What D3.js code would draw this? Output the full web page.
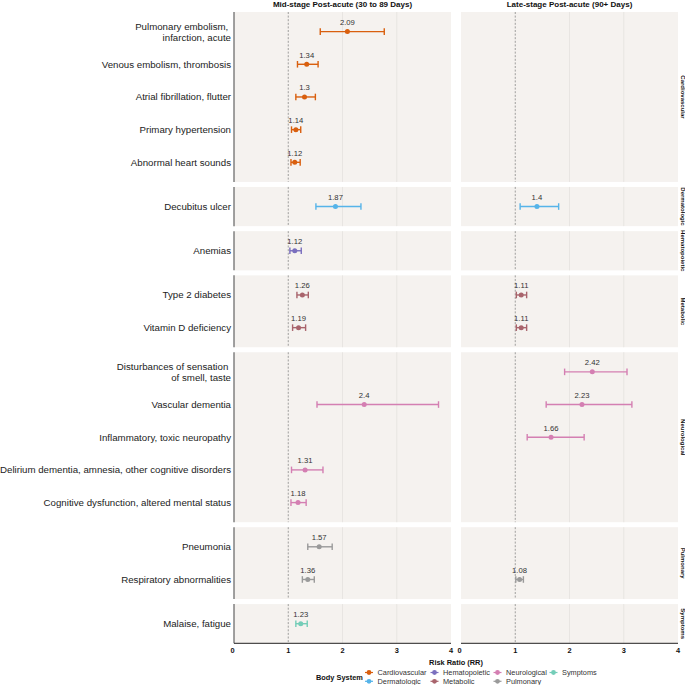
<!DOCTYPE html>
<html>
<head>
<meta charset="utf-8">
<script src="https://cdn.jsdelivr.net/npm/d3@7"></script>
<style>
  html, body { margin: 0; padding: 0; background: #fff; }
  svg { display: block; font-family: "Liberation Sans", Arial, Helvetica, sans-serif; }
</style>
</head>
<body>
<svg id="chart" width="685" height="685"></svg>
<script>
// ---------------- DATA ----------------
const systems = ["Cardiovascular", "Dermatologic", "Hematopoietic", "Metabolic", "Neurological", "Pulmonary", "Symptoms"];
const systemColors = ["#D95F0E", "#56B4E9", "#7A6FBE", "#A9646C", "#D47FB2", "#9A9A9A", "#74CDB8"];

const outcomes = [
  "Pulmonary embolism, \ninfarction, acute",
  "Venous embolism, thrombosis",
  "Atrial fibrillation, flutter",
  "Primary hypertension",
  "Abnormal heart sounds",
  "Decubitus ulcer",
  "Anemias",
  "Type 2 diabetes",
  "Vitamin D deficiency",
  "Disturbances of sensation \nof smell, taste",
  "Vascular dementia",
  "Inflammatory, toxic neuropathy",
  "Delirium dementia, amnesia, other cognitive disorders",
  "Cognitive dysfunction, altered mental status",
  "Pneumonia",
  "Respiratory abnormalities",
  "Malaise, fatigue"
];
const outcomeSystem = [
  "Cardiovascular", "Cardiovascular", "Cardiovascular", "Cardiovascular", "Cardiovascular",
  "Dermatologic", "Hematopoietic", "Metabolic", "Metabolic",
  "Neurological", "Neurological", "Neurological", "Neurological", "Neurological",
  "Pulmonary", "Pulmonary", "Symptoms"
];

const periods = ["Mid-stage Post-acute (30 to 89 Days)", "Late-stage Post-acute (90+ Days)"];

// Mid-stage (30-89 days)
const midRR = [2.09, 1.34, 1.30, 1.14, 1.12, 1.87, 1.12, 1.26, 1.19, null, 2.40, null, 1.31, 1.18, 1.57, 1.36, 1.23];
const midLo = [1.59, 1.17, 1.14, 1.06, 1.05, 1.51, 1.03, 1.16, 1.08, null, 1.53, null, 1.06, 1.05, 1.36, 1.26, 1.14];
const midHi = [2.77, 1.55, 1.50, 1.23, 1.22, 2.34, 1.24, 1.37, 1.32, null, 3.77, null, 1.64, 1.33, 1.81, 1.48, 1.35];

// Late-stage (90+ days)
const lateRR = [null, null, null, null, null, 1.40, null, 1.11, 1.11, 2.42, 2.23, 1.66, null, null, null, 1.08, null];
const lateLo = [null, null, null, null, null, 1.09, null, 1.02, 1.02, 1.91, 1.57, 1.22, null, null, null, 1.01, null];
const lateHi = [null, null, null, null, null, 1.80, null, 1.21, 1.21, 3.06, 3.15, 2.27, null, null, null, 1.15, null];

const xTicks = [0, 1, 2, 3, 4];
const xTitle = "Risk Ratio (RR)";
const legendTitle = "Body System";

// ---------------- LAYOUT ----------------
const svg = d3.select("#chart");
const color = d3.scaleOrdinal().domain(systems).range(systemColors);

const panelX = [[234, 451], [461, 678]];
const plotTop = 12, plotBottom = 643.3, gapY = 5;
const xScales = panelX.map(r => d3.scaleLinear().domain([0, 4]).range(r));

const facetItems = systems.map(s => outcomes.map((o, i) => i).filter(i => outcomeSystem[i] === s));
const totalUnits = d3.sum(facetItems, f => f.length + 0.2);
const unit = (plotBottom - plotTop - gapY * (systems.length - 1)) / totalUnits;

let yCursor = plotTop;
const facets = facetItems.map((items, k) => {
  const h = unit * (items.length + 0.2);
  const y0 = yCursor;
  yCursor += h + gapY;
  const ys = d3.scalePoint().domain(items).range([y0, y0 + h]).padding(0.6);
  return { system: systems[k], items, y0, h, ys };
});

const series = [
  { rr: midRR, lo: midLo, hi: midHi },
  { rr: lateRR, lo: lateLo, hi: lateHi }
];

// panel backgrounds & grids
facets.forEach(f => {
  panelX.forEach((r, p) => {
    const g = svg.append("g");
    g.append("rect").attr("x", r[0]).attr("y", f.y0).attr("width", r[1] - r[0]).attr("height", f.h)
      .attr("fill", "#F5F2EF");
    [2, 3].forEach(t => {
      g.append("line").attr("x1", xScales[p](t)).attr("x2", xScales[p](t))
        .attr("y1", f.y0).attr("y2", f.y0 + f.h).attr("stroke", "#E3DFDC").attr("stroke-width", 0.7);
    });
    g.append("line").attr("x1", xScales[p](1)).attr("x2", xScales[p](1))
      .attr("y1", f.y0).attr("y2", f.y0 + f.h).attr("stroke", "#7a7a7a").attr("stroke-width", 0.7)
      .attr("stroke-dasharray", "2,1.6");
  });
  // left y axis line
  svg.append("line").attr("x1", 234).attr("x2", 234).attr("y1", f.y0).attr("y2", f.y0 + f.h)
    .attr("stroke", "#555").attr("stroke-width", 1.1);
  // y labels
  f.items.forEach(i => {
    const lines = outcomes[i].split("\n");
    const t = svg.append("text").attr("text-anchor", "end").attr("font-size", 9.7).attr("fill", "#222")
      .style("white-space", "pre");
    const yc = f.ys(i);
    lines.forEach((ln, j) => {
      t.append("tspan").attr("x", 231).attr("y", yc + (j - (lines.length - 1) / 2) * 11 + 3.4).text(ln);
    });
  });
  // strip label
  const cy = f.y0 + f.h / 2;
  svg.append("text").attr("transform", `translate(681.2,${cy}) rotate(90)`)
    .attr("text-anchor", "middle").attr("font-size", 6).attr("font-weight", "bold").attr("fill", "#111")
    .text(f.system);
});

// error bars, points, labels
facets.forEach(f => {
  f.items.forEach(i => {
    series.forEach((s, p) => {
      if (s.rr[i] == null) return;
      const x = xScales[p], y = f.ys(i), c = color(f.system);
      const g = svg.append("g");
      g.append("line").attr("x1", x(s.lo[i])).attr("x2", x(s.hi[i])).attr("y1", y).attr("y2", y)
        .attr("stroke", c).attr("stroke-width", 1.4);
      [s.lo[i], s.hi[i]].forEach(v => {
        g.append("line").attr("x1", x(v)).attr("x2", x(v)).attr("y1", y - 3.3).attr("y2", y + 3.3)
          .attr("stroke", c).attr("stroke-width", 1.4);
      });
      g.append("circle").attr("cx", x(s.rr[i])).attr("cy", y).attr("r", 2.5).attr("fill", c);
      g.append("text").attr("x", x(s.rr[i])).attr("y", y - 6.5).attr("text-anchor", "middle")
        .attr("font-size", 7.7).attr("fill", "#333").text(String(s.rr[i]));
    });
  });
});

// x axes
panelX.forEach((r, p) => {
  svg.append("line").attr("x1", r[0]).attr("x2", r[1]).attr("y1", plotBottom).attr("y2", plotBottom)
    .attr("stroke", "#222").attr("stroke-width", 1);
  xTicks.forEach(t => {
    svg.append("text").attr("x", xScales[p](t) - (t === 0 ? 1.5 : 0)).attr("y", plotBottom + 9.5)
      .attr("text-anchor", "middle").attr("font-size", 7.4).attr("font-weight", "bold").attr("fill", "#111")
      .text(t);
  });
  // panel titles
  svg.append("text").attr("x", (r[0] + r[1]) / 2).attr("y", 7).attr("text-anchor", "middle")
    .attr("font-size", 8).attr("font-weight", "bold").attr("fill", "#111").text(periods[p]);
});

svg.append("text").attr("x", 456).attr("y", 665).attr("text-anchor", "middle")
  .attr("font-size", 7.4).attr("font-weight", "bold").attr("fill", "#111").text(xTitle);

// legend
const lg = svg.append("g");
lg.append("text").attr("x", 316).attr("y", 679.8).attr("font-size", 7.4).attr("font-weight", "bold")
  .attr("fill", "#111").text(legendTitle);
const colX = [369, 434.5, 497.5, 553.5];
const rowY = [672.5, 681.3];
systems.forEach((s, k) => {
  const col = Math.floor(k / 2), row = k % 2;
  const kx = colX[col], ky = rowY[row];
  lg.append("line").attr("x1", kx - 4).attr("x2", kx + 4).attr("y1", ky).attr("y2", ky)
    .attr("stroke", color(s)).attr("stroke-width", 1.2);
  lg.append("circle").attr("cx", kx).attr("cy", ky).attr("r", 2.4).attr("fill", color(s));
  lg.append("text").attr("x", kx + 8.5).attr("y", ky + 2.6).attr("font-size", 7.35).attr("fill", "#333").text(s);
});
</script>
</body>
</html>
